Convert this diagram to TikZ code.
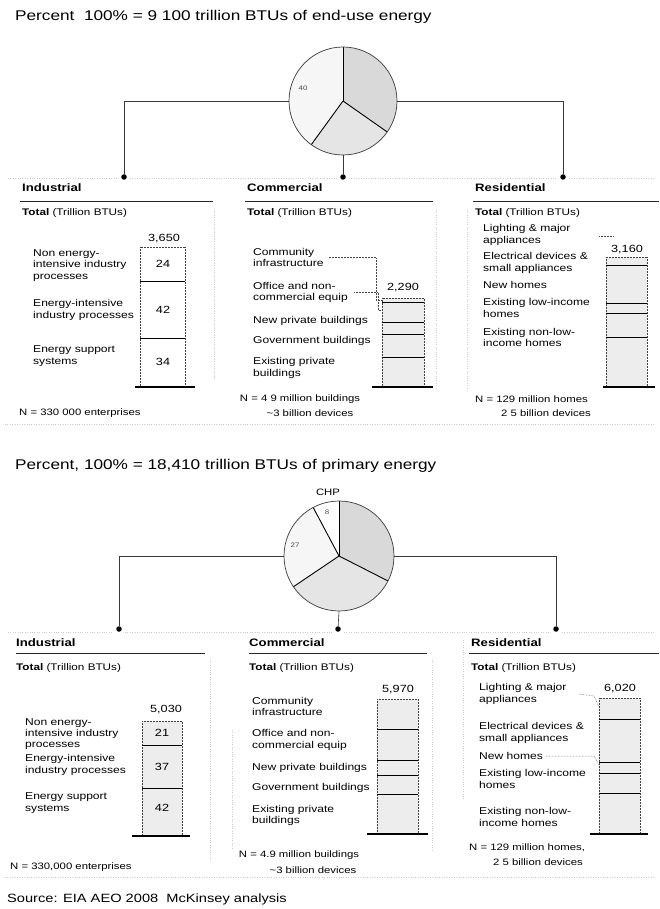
\documentclass[tikz,border=0pt]{standalone}
\usepackage{fontspec}
\setmainfont[FakeStretch=1.22]{Liberation Sans}
\newcommand\ttlfont{\fontsize{14.1}{16}\selectfont}
\newcommand\hdrfont{\fontsize{10.8}{12}\selectfont\bfseries}
\newcommand\totfont{\fontsize{9.6}{11}\selectfont}
\newcommand\lblfont{\fontsize{9.9}{11.3}\selectfont}
\newcommand\nfont{\fontsize{9.3}{11}\selectfont}
\newcommand\numfont{\fontsize{10.4}{11}\selectfont}
\newcommand\tinyfont{\fontsize{6.5}{7}\selectfont}
\newcommand\srcfont{\fontsize{12}{14}\selectfont}
\begin{document}
\begin{tikzpicture}[x=1pt,y=-1pt,
  ttl/.style={anchor=west,inner sep=0,font=\ttlfont},
  hdr/.style={anchor=west,inner sep=0,font=\hdrfont},
  tot/.style={anchor=west,inner sep=0,font=\totfont},
  lbl/.style={anchor=west,inner sep=0,align=left,font=\lblfont},
  num/.style={inner sep=0,font=\numfont},
  ntext/.style={inner sep=0,font=\nfont},
  seg/.style={inner sep=0,font=\numfont},
  tiny/.style={inner sep=0,font=\tinyfont,text=gray!60!black},
  dotnode/.style={circle,fill=black,inner sep=0,minimum size=5.5pt},
  pienode/.style={circle,draw=gray!45!black,line width=0.7pt,inner sep=0},
  conn/.style={draw=gray!45!black,line width=0.6pt},
  spoke/.style={draw=black,line width=0.9pt},
  rule/.style={draw=black!85,line width=0.8pt},
  barline/.style={draw=gray!50!black,line width=0.5pt,densely dotted},
  divider/.style={draw=black,line width=0.8pt},
  barbase/.style={draw=black,line width=1.3pt},
  leader/.style={draw=gray!55!black,line width=0.5pt,densely dotted},
  faint/.style={draw=gray!40,line width=0.4pt,dotted},
  darkfill/.style={fill=gray!30},
  midfill/.style={fill=gray!20},
  lightfill/.style={fill=gray!7},
  barfill/.style={fill=gray!14}
]
\useasboundingbox (0,0) rectangle (659,909);
\fill[white] (0,0) rectangle (659,909);

% ================= TOP SECTION =================
\node[ttl] (t1) at (15,17) {Percent\ \ 100\% = 9 100 trillion BTUs of end-use energy};

% pie 1
\begin{scope}[shift={(343,101)},yscale=-1]
  \fill[darkfill] (0,0) -- (-35:54) arc[start angle=-35,end angle=90,radius=54] -- cycle;
  \fill[midfill] (0,0) -- (-126:54) arc[start angle=-126,end angle=-35,radius=54] -- cycle;
  \fill[lightfill] (0,0) -- (90:54) arc[start angle=90,end angle=234,radius=54] -- cycle;
  \draw[spoke] (0,0) -- (90:54);
  \draw[spoke] (0,0) -- (-35:54);
  \draw[spoke] (0,0) -- (-126:54);
\end{scope}
\node[pienode,minimum size=108pt] (pieA) at (343,101) {};
\node[tiny] (pA40) at (303,88) {40};

\node[dotnode] (dA1) at (124,177) {};
\node[dotnode] (dA2) at (343,177) {};
\node[dotnode] (dA3) at (563,177) {};
\draw[conn] (pieA.west) -| (dA1);
\draw[conn] (pieA.east) -| (dA3);
\draw[conn] (pieA.south) -- (dA2);

\draw[faint] (8,178) -- (118,178);
\draw[faint] (130,178) -- (337,178);
\draw[faint] (349,178) -- (557,178);
\draw[faint] (569,178) -- (655,178);

% headers
\node[hdr] (hA1) at (22,188) {Industrial};
\node[hdr] (hA2) at (247,188) {Commercial};
\node[hdr] (hA3) at (475,188) {Residential};
\draw[rule] (20,201) -- (213,201);
\draw[rule] (245,201) -- (433,201);
\draw[rule] (473,201) -- (659,201);
\node[tot] (tA1) at (22,213) {\textbf{Total} (Trillion BTUs)};
\node[tot] (tA2) at (247,213) {\textbf{Total} (Trillion BTUs)};
\node[tot] (tA3) at (475,213) {\textbf{Total} (Trillion BTUs)};

\draw[faint] (214,210) -- (214,380);
\draw[faint] (436,210) -- (436,390);
\draw[faint] (467,210) -- (467,390);

% industrial bar (top)
\draw[barline] (140,247) rectangle (185,387);
\draw[divider] (140,281) -- (185,281);
\draw[divider] (140,338) -- (185,338);
\draw[barbase] (135,387) -- (195,387);
\node[num] (nA1) at (164,239) {3,650};
\node[seg] (sA11) at (163,264) {24};
\node[seg] (sA12) at (163,310) {42};
\node[seg] (sA13) at (163,362) {34};
\node[lbl] (lA11) at (33,265.5) {Non energy-\\intensive industry\\processes};
\node[lbl] (lA12) at (33,310) {Energy-intensive\\industry processes};
\node[lbl] (lA13) at (33,356) {Energy support\\systems};

% commercial bar (top)
\fill[barfill] (382,298) rectangle (424,387);
\draw[barline] (382,298) rectangle (424,387);
\foreach \yy in {302,322,334,357} \draw[divider] (382,\yy) -- (424,\yy);
\draw[barbase] (372,387) -- (433,387);
\node[num] (nA2) at (403,288) {2,290};
\node[lbl] (lA21) at (253,257.5) {Community\\infrastructure};
\node[lbl] (lA22) at (253,292.5) {Office and non-\\commercial equip};
\node[lbl] (lA23) at (253,321) {New private buildings};
\node[lbl] (lA24) at (253,341) {Government buildings};
\node[lbl] (lA25) at (253,368) {Existing private\\buildings};
\coordinate (cA21) at (383,300);
\coordinate (cA22) at (383,310);
\draw[leader] ([xshift=5pt]lA21.east) -| ([xshift=-7pt]cA21) -- (cA21);
\draw[leader] ([xshift=6pt]lA22.east) -| ([xshift=-5pt]cA22) -- (cA22);

% residential bar (top)
\fill[barfill] (606,257) rectangle (647,387);
\draw[barline] (606,257) rectangle (647,387);
\foreach \yy in {265,303,313,337} \draw[divider] (606,\yy) -- (647,\yy);
\draw[barbase] (603,387) -- (655,387);
\node[num] (nA3) at (627,250) {3,160};
\node[lbl] (lA31) at (483,235) {Lighting \& major\\appliances};
\node[lbl] (lA32) at (483,263) {Electrical devices \&\\small appliances};
\node[lbl] (lA33) at (483,285) {New homes};
\node[lbl] (lA34) at (483,308) {Existing low-income\\homes};
\node[lbl] (lA35) at (483,337.5) {Existing non-low-\\income homes};
\coordinate (cA31a) at (599,236);
\coordinate (cA31b) at (613,236);
\draw[leader] (cA31a) -- (cA31b);

% N texts (top)
\node[ntext,anchor=west] (nnA1) at (19,413) {N = 330 000 enterprises};
\node[ntext] (nnA2) at (300,399) {N = 4 9 million buildings};
\node[ntext] (nnA3) at (310,413) {\textasciitilde 3 billion devices};
\node[ntext,anchor=west] (nnA4) at (475,399) {N = 129 million homes};
\node[ntext] (nnA5) at (546,413) {2 5 billion devices};
\draw[faint] (5,424) -- (655,424);

% ================= BOTTOM SECTION =================
\node[ttl] (t2) at (15,466) {Percent, 100\% = 18,410 trillion BTUs of primary energy};

\begin{scope}[shift={(339,556)},yscale=-1]
  \fill[darkfill] (0,0) -- (-27:55) arc[start angle=-27,end angle=90,radius=55] -- cycle;
  \fill[midfill] (0,0) -- (-146:55) arc[start angle=-146,end angle=-27,radius=55] -- cycle;
  \fill[lightfill] (0,0) -- (118:55) arc[start angle=118,end angle=214,radius=55] -- cycle;
  \draw[spoke] (0,0) -- (90:55);
  \draw[spoke] (0,0) -- (118:55);
  \draw[spoke] (0,0) -- (214:55);
  \draw[spoke] (0,0) -- (-27:55);
\end{scope}
\node[pienode,minimum size=110pt] (pieB) at (339,556) {};
\node[tiny] (pB8) at (327,512) {8};
\node[tiny] (pB27) at (295,545) {27};
\node[inner sep=0,font=\nfont] (chp) at (328,492) {CHP};

\node[dotnode] (dB1) at (119,629) {};
\node[dotnode] (dB2) at (338,629) {};
\node[dotnode] (dB3) at (556,629) {};
\draw[conn] (pieB.west) -| (dB1);
\draw[conn] (pieB.east) -| (dB3);
\draw[conn] (pieB.south) -- (dB2);

\draw[faint] (8,632) -- (113,632);
\draw[faint] (125,632) -- (332,632);
\draw[faint] (344,632) -- (550,632);
\draw[faint] (562,632) -- (655,632);

\node[hdr] (hB1) at (16,643) {Industrial};
\node[hdr] (hB2) at (249,643) {Commercial};
\node[hdr] (hB3) at (471,643) {Residential};
\draw[rule] (16,653) -- (205,653);
\draw[rule] (249,653) -- (427,653);
\draw[rule] (469,653) -- (659,653);
\node[tot] (tB1) at (16,668) {\textbf{Total} (Trillion BTUs)};
\node[tot] (tB2) at (249,668) {\textbf{Total} (Trillion BTUs)};
\node[tot] (tB3) at (471,668) {\textbf{Total} (Trillion BTUs)};

\draw[faint] (210,660) -- (210,860);
\draw[faint] (232,730) -- (232,850);
\draw[faint] (432,660) -- (432,850);
\draw[faint] (463,640) -- (463,800);

% industrial bar (bottom)
\fill[barfill] (142,721) rectangle (182,835);
\draw[barline] (142,721) rectangle (182,835);
\draw[divider] (142,745) -- (182,745);
\draw[divider] (142,788) -- (182,788);
\draw[barbase] (132,836) -- (190,836);
\node[num] (nB1) at (166,710) {5,030};
\node[seg] (sB11) at (162,733) {21};
\node[seg] (sB12) at (162,767) {37};
\node[seg] (sB13) at (162,808) {42};
\node[lbl] (lB11) at (25,734) {Non energy-\\intensive industry\\processes};
\node[lbl] (lB12) at (25,765) {Energy-intensive\\industry processes};
\node[lbl] (lB13) at (25,803) {Energy support\\systems};
\node[ntext,anchor=west] (nnB1) at (10,867) {N = 330,000 enterprises};

% commercial bar (bottom)
\fill[barfill] (377,699) rectangle (418,833);
\draw[barline] (377,699) rectangle (418,833);
\foreach \yy in {729,760,775,794} \draw[divider] (377,\yy) -- (418,\yy);
\draw[barbase] (367,834) -- (428,834);
\node[num] (nB2) at (398,690) {5,970};
\node[lbl] (lB21) at (252,706.5) {Community\\infrastructure};
\node[lbl] (lB22) at (252,740) {Office and non-\\commercial equip};
\node[lbl] (lB23) at (252,768) {New private buildings};
\node[lbl] (lB24) at (252,788) {Government buildings};
\node[lbl] (lB25) at (252,815.5) {Existing private\\buildings};
\node[ntext] (nnB2) at (299,855) {N = 4.9 million buildings};
\node[ntext] (nnB3) at (313,870) {\textasciitilde 3 billion devices};

% residential bar (bottom)
\fill[barfill] (599,698) rectangle (640,833);
\draw[barline] (599,698) rectangle (640,833);
\foreach \yy in {719,762,773,793} \draw[divider] (599,\yy) -- (640,\yy);
\draw[barbase] (590,834) -- (648,834);
\node[num] (nB3) at (620,689) {6,020};
\node[lbl] (lB31) at (479,694) {Lighting \& major\\appliances};
\node[lbl] (lB32) at (479,733) {Electrical devices \&\\small appliances};
\node[lbl] (lB33) at (479,756) {New homes};
\node[lbl] (lB34) at (479,779) {Existing low-income\\homes};
\node[lbl] (lB35) at (479,817) {Existing non-low-\\income homes};
\coordinate (cB31) at (599,707);
\coordinate (cB33) at (599,765);
\draw[leader] (579,694) -- (594,696) -- (cB31);
\draw[leader] ([xshift=3pt]lB33.east) -- (594,756) -- (cB33);
\node[ntext,anchor=west] (nnB4) at (469,848) {N = 129 million homes,};
\node[ntext,anchor=west] (nnB5) at (493,862) {2 5 billion devices};
\draw[faint] (5,877) -- (655,877);

\node[anchor=west,inner sep=0,font=\srcfont] (src) at (7,899) {Source: EIA AEO 2008\ \ McKinsey analysis};
\end{tikzpicture}
\end{document}
